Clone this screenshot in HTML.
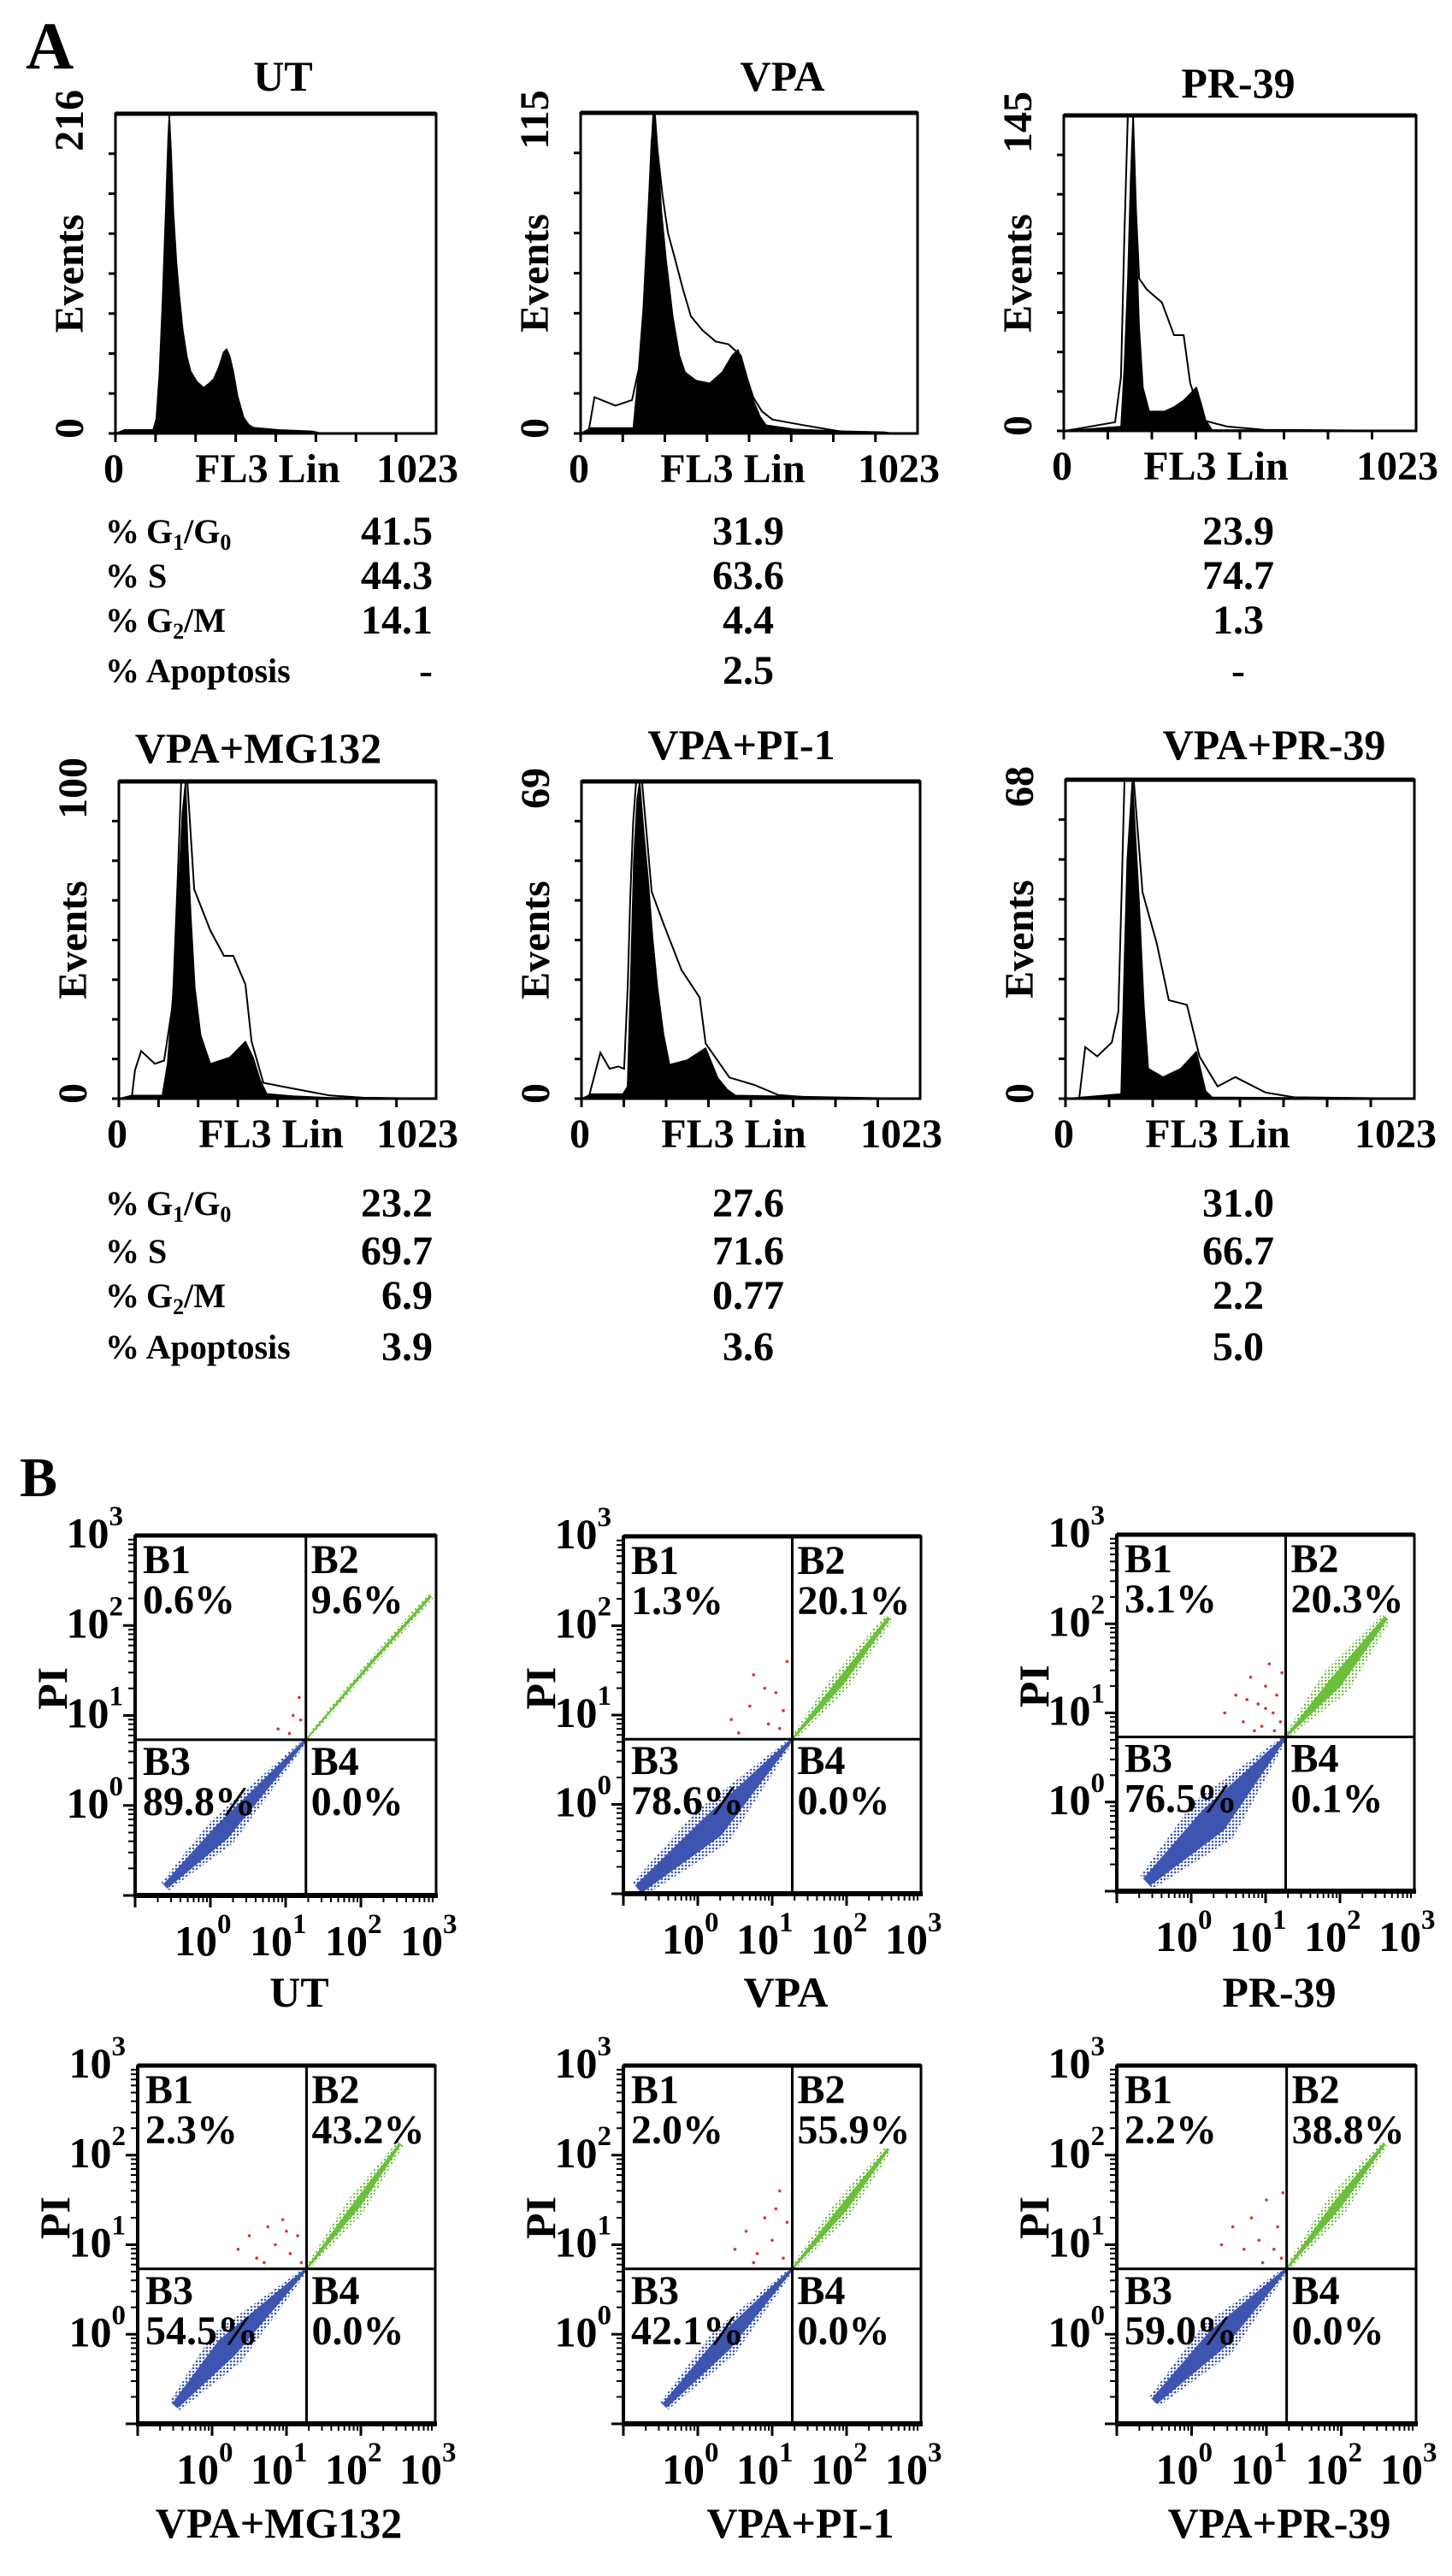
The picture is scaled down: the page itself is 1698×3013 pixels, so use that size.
<!DOCTYPE html>
<html><head><meta charset="utf-8"><style>
html,body{margin:0;padding:0;background:#fff;}
svg{display:block;}
text{font-family:"Liberation Serif","Times New Roman",serif;font-weight:bold;fill:#000;}
</style></head><body>
<svg id="fig" width="1698" height="3013" viewBox="0 0 1698 3013" xmlns="http://www.w3.org/2000/svg">
<defs>
<pattern id="pb" width="4" height="4" patternUnits="userSpaceOnUse"><circle cx="2" cy="2" r="1.3" fill="#3d55b0"/></pattern>
<pattern id="pg" width="4" height="4" patternUnits="userSpaceOnUse"><circle cx="2" cy="2" r="1.2" fill="#6cbf3c"/></pattern>
</defs>
<rect width="1698" height="3013" fill="#fff"/>
<text x="30" y="80" font-size="78">A</text>
<text x="23" y="1750" font-size="66">B</text>
</svg>
<script>
// ---------- Histogram data (channel 0-1023, events) ----------
const histTitles = ['UT','VPA','PR-39','VPA+MG132','VPA+PI-1','VPA+PR-39'];
const histMax = [216,115,145,100,69,68];
const utFillCh  = [0,30,120,130,140,150,160,168,172,178,185,195,204,215,228,240,260,281,300,314,330,345,355,365,376,390,409,425,440,520,628,660,1023];
const utFillV   = [0,2.5,2.5,10,40,90,150,200,216,190,150,115,93,70,52,42,35,31,34,37,45,55,57,52,42,25,11,6,4,2.5,1.5,0,0];
const vpaFillCh = [0,31,160,174,190,205,215,226,235,245,260,280,300,317,350,392,430,460,478,500,524,545,563,650,800,922,950,1023];
const vpaFillV  = [0,2,2,20,45,80,105,115,100,80,62,42,28,22,19,18,22,28,30,22,12,6,3,1.5,0.8,0.5,0,0];
const vpaOpenCh = [0,23,42,106,156,180,192,205,214,221,235,249,265,288,310,335,370,410,449,486,505,524,550,582,675,800,1023];
const vpaOpenV  = [0,0,13,10,12,25,39,70,100,115,100,85,72,62,52,42,37,33,32,28,20,13,8,5,3,0.5,0];
const pr39FillCh= [0,166,176,186,194,201,210,219,230,248,293,320,348,385,400,412,430,1023];
const pr39FillV = [0,2,30,70,115,145,90,48,20,9,9,11,14,20,12,5,0.5,0];
const pr39OpenCh= [0,40,149,166,176,186,201,210,219,241,285,320,348,367,402,474,583,1023];
const pr39OpenV = [0,1,4,25,90,145,145,100,70,65,59,44,44,22,5,2,0.5,0];
const mgFillCh  = [0,41,140,157,179,192,205,215,222,232,245,264,295,358,408,433,455,477,560,680,1023];
const mgFillV   = [0,1,1,11,39,65,90,100,80,58,35,20,11,13,18,13,6,1.5,0.8,0.3,0];
const mgOpenCh  = [0,41,52,72,116,146,174,190,201,221,243,295,339,369,408,428,466,571,680,787,1023];
const mgOpenV   = [0,0,9,15,11,12,30,70,100,100,66,53,45,45,36,18,5,3,1,0.3,0];
const pi1FillCh = [0,31,125,139,150,158,168,176,188,201,215,230,248,266,320,375,411,440,465,1023];
const pi1FillV  = [0,1,1,2.6,30,52,65,69,58,48,35,24,14,7.4,8.4,11,4.6,2,0.7,0];
const pi1OpenCh = [0,21,57,85,111,129,140,147,156,165,183,212,248,302,357,375,447,522,594,700,1023];
const pi1OpenV  = [0,0,10,6.5,7,6.5,25,43,60,69,69,45,38,28,22,12,4.6,3,0.8,0.2,0];
const pr2FillCh = [0,163,173,181,196,206,216,230,243,286,338,384,411,430,1023];
const pr2FillV  = [0,1,30,51,68,55,42,20,6.4,4.6,6.4,10,1.6,0.3,0];
const pr2OpenCh = [0,40,58,93,136,155,165,173,200,226,268,303,356,393,446,498,587,670,1023];
const pr2OpenV  = [0,0,11,9,12,18.5,45,68,68,44,33,21,20,9,2.6,4.6,1.3,0.3,0];
const histFillCh = [utFillCh,vpaFillCh,pr39FillCh,mgFillCh,pi1FillCh,pr2FillCh];
const histFillV  = [utFillV,vpaFillV,pr39FillV,mgFillV,pi1FillV,pr2FillV];
const histOpenCh = [null,vpaOpenCh,pr39OpenCh,mgOpenCh,pi1OpenCh,pr2OpenCh];
const histOpenV  = [null,vpaOpenV,pr39OpenV,mgOpenV,pi1OpenV,pr2OpenV];

// ---------- Cell-cycle stats ----------
const statLabels = ['G1/G0','S','G2/M','Apoptosis'];
const statG1 = ['41.5','31.9','23.9','23.2','27.6','31.0'];
const statS  = ['44.3','63.6','74.7','69.7','71.6','66.7'];
const statG2 = ['14.1','4.4','1.3','6.9','0.77','2.2'];
const statAp = ['-','2.5','-','3.9','3.6','5.0'];

// ---------- Annexin/PI scatter data (log10 units) ----------
const scTitles = ['UT','VPA','PR-39','VPA+MG132','VPA+PI-1','VPA+PR-39'];
const scB1 = ['0.6%','1.3%','3.1%','2.3%','2.0%','2.2%'];
const scB2 = ['9.6%','20.1%','20.3%','43.2%','55.9%','38.8%'];
const scB3 = ['89.8%','78.6%','76.5%','54.5%','42.1%','59.0%'];
const scB4 = ['0.0%','0.0%','0.1%','0.0%','0.0%','0.0%'];
const gateX = 1.27, gateY = 0.73;
const blueLines = [
 [[-0.6,-0.9],[0.15,-0.3],[1.27,0.73]],
 [[-0.8,-0.95],[0.2,-0.25],[1.27,0.73]],
 [[-0.6,-0.9],[0.3,-0.2],[1.27,0.73]],
 [[-0.5,-0.8],[0.2,-0.15],[1.27,0.73]],
 [[-0.45,-0.8],[0.35,-0.1],[1.27,0.73]],
 [[-0.5,-0.75],[0.35,-0.05],[1.27,0.73]]];
const blueWidths = [[0.12,0.35,0.05],[0.2,0.5,0.05],[0.2,0.6,0.05],[0.15,0.45,0.05],[0.12,0.35,0.05],[0.15,0.45,0.05]];
const greenLines = [
 [[1.27,0.73],[2.1,1.55],[2.93,2.33]],
 [[1.27,0.73],[1.9,1.35],[2.57,2.09]],
 [[1.27,0.73],[1.95,1.35],[2.62,2.07]],
 [[1.27,0.73],[1.95,1.45],[2.53,2.13]],
 [[1.27,0.73],[1.95,1.4],[2.56,2.07]],
 [[1.27,0.73],[1.95,1.45],[2.58,2.13]]];
const greenWidths = [[0.04,0.08,0.08],[0.05,0.22,0.1],[0.05,0.35,0.12],[0.05,0.22,0.08],[0.05,0.22,0.08],[0.05,0.25,0.08]];
const redPts = [
 [[0.9,0.85],[1.1,1.0],[1.2,0.95],[1.18,1.2],[1.05,0.8]],
 [[0.45,0.95],[0.7,1.1],[0.75,1.45],[0.95,0.9],[1.05,1.25],[1.15,1.05],[1.2,1.6],[0.55,0.8],[0.9,1.3],[1.1,0.85]],
 [[0.45,1.0],[0.6,1.2],[0.7,0.9],[0.8,1.4],[0.9,1.1],[0.95,0.85],[1.0,1.3],[1.05,1.55],[1.1,1.0],[1.15,1.2],[1.2,0.9],[1.22,1.45],[0.85,0.8],[1.0,1.05],[1.12,0.8],[0.75,1.15]],
 [[0.35,0.95],[0.5,1.1],[0.6,0.85],[0.75,1.2],[0.85,1.0],[0.95,1.28],[1.05,0.9],[1.15,1.1],[1.2,0.8],[0.7,0.8],[1.0,1.15]],
 [[0.5,0.95],[0.65,1.15],[0.8,0.9],[0.9,1.3],[1.0,1.05],[1.1,1.6],[1.15,0.85],[1.2,1.25],[1.05,1.4],[0.75,0.8]],
 [[0.4,1.0],[0.55,1.2],[0.7,0.95],[0.8,1.3],[0.9,1.05],[1.0,1.5],[1.1,0.95],[1.15,1.2],[1.22,1.58],[0.95,0.8],[1.2,0.85]]];

// ---------- layout (pixel geometry, not data) ----------
const histBox = [[135,510,133,507],[679,1073,132,507],[1244,1656,135,504],[139,510,914,1285],[680,1076,914,1285],[1246,1654,912,1285]];
const histTitlePos = [[331,106],[915,106],[1448,114],[302,892],[867,888],[1490,888]];
const statRowY = [[637,689,741,800],[1423,1479,1531,1591]];
const statValX = [[506,'end'],[875,'middle'],[1448,'middle']];
const scBox = [[158,510,1796,2217],[729,1077,1797,2215],[1306,1654,1795,2212],[161,509,2416,2835],[729,1077,2416,2835],[1306,1656,2416,2835]];
const scTitleY = [2347,2347,2347,2968,2968,2968];
const scTitleX = [350,919,1496,326,936,1496];

const svg = document.getElementById('fig');
const NS = 'http://www.w3.org/2000/svg';
function mk(tag, attrs, parent){
  const e = document.createElementNS(NS, tag);
  for (const k in attrs) e.setAttribute(k, attrs[k]);
  (parent||svg).appendChild(e);
  return e;
}
function txt(str, x, y, size, anchor, parent){
  const t = mk('text', {x:x, y:y, 'font-size':size, 'text-anchor':anchor||'start'}, parent);
  t.textContent = str;
  return t;
}

// ---------- Histograms ----------
for (let p = 0; p < 6; p++){
  const [x0,x1,y0,y1] = histBox[p];
  const g = mk('g', {});
  
  
  const xs = c => x0 + c/1023*(x1-x0);
  const ys = v => y1 - Math.min(v, histMax[p])/histMax[p]*(y1-y0);
  const fc = histFillCh[p], fv = histFillV[p];
  let d = 'M' + xs(fc[0]) + ',' + y1;
  for (let i = 0; i < fc.length; i++) d += ' L' + xs(fc[i]).toFixed(1) + ',' + ys(fv[i]).toFixed(1);
  d += ' L' + xs(fc[fc.length-1]) + ',' + y1 + ' Z';
  const fill = mk('path', {d:d, fill:'#000', stroke:'#000', 'stroke-width':1.5, 'stroke-linejoin':'round'}, g);
  
  
  if (histOpenCh[p]){
    const oc = histOpenCh[p], ov = histOpenV[p];
    let pts = '';
    for (let i = 0; i < oc.length; i++) pts += xs(oc[i]).toFixed(1) + ',' + ys(ov[i]).toFixed(1) + ' ';
    const ol = mk('polyline', {points:pts, fill:'none', stroke:'#000', 'stroke-width':2}, g);
    
    
  }
  const box = mk('rect', {x:x0, y:y0, width:x1-x0, height:y1-y0, fill:'none', stroke:'#000', 'stroke-width':3}, g);
  
  
  mk('line', {x1:x0, y1:y0, x2:x1, y2:y0, stroke:'#000', 'stroke-width':5}, g);
  for (let i = 0; i < 8; i++){
    const ty = y1 - i*(y1-y0)/8;
    const t = mk('line', {x1:x0-8, y1:ty, x2:x0, y2:ty, stroke:'#000', 'stroke-width':3}, g);
    
    
    const tx = x0 + i*(x1-x0)/8;
    const t2 = mk('line', {x1:tx, y1:y1, x2:tx, y2:y1+10, stroke:'#000', 'stroke-width':3}, g);
    
    
  }
  const [tx, ty] = histTitlePos[p];
  const tt = txt(histTitles[p], tx, ty, 50, 'middle', g);
  
  
  const ev = txt('Events', 0, 0, 48, 'middle', g);
  ev.setAttribute('transform', 'translate(' + (x0-38) + ',' + ((y0+y1)/2) + ') rotate(-90)');
  
  
  const mx = txt(String(histMax[p]), 0, 0, 48, 'middle', g);
  mx.setAttribute('transform', 'translate(' + (x0-38) + ',' + (y0+8) + ') rotate(-90)');
  
  
  const z = txt('0', 0, 0, 48, 'middle', g);
  z.setAttribute('transform', 'translate(' + (x0-38) + ',' + (y1-6) + ') rotate(-90)');
  
  
  const xl0 = txt('0', x0-2, y1+57, 48, 'middle', g);
  
  
  const xt = txt('FL3 Lin', x0+178, y1+57, 48, 'middle', g);
  
  
  const xl1 = txt('1023', x1+26, y1+57, 48, 'end', g);
  
  
}

// ---------- Stats tables ----------
const statVals = [statG1, statS, statG2, statAp];
for (let r = 0; r < 2; r++){
  const rows = statRowY[r];
  for (let k = 0; k < 4; k++){
    const y = rows[k];
    const lab = mk('text', {x:123, y:y-2, 'font-size':40});
    
    
    if (k === 0){
      lab.innerHTML = '%\u2009G<tspan font-size="26" dy="8">1</tspan><tspan dy="-8">/G</tspan><tspan font-size="26" dy="8">0</tspan>';
    } else if (k === 2){
      lab.innerHTML = '%\u2009G<tspan font-size="26" dy="8">2</tspan><tspan dy="-8">/M</tspan>';
    } else {
      lab.textContent = '% ' + statLabels[k];
    }
    for (let c = 0; c < 3; c++){
      const idx = r*3 + c;
      const [vx, anc] = statValX[c];
      const v = txt(statVals[k][idx], vx, y, 48, anc);
      
      
    }
  }
}

// ---------- Scatter plots ----------
function bandPath(line, widths, xs, ys, scale){
  const P = line.map(q => [xs(q[0]), ys(q[1])]);
  const L = [], R = [];
  for (let i = 0; i < P.length; i++){
    const a = P[Math.max(0,i-1)], b = P[Math.min(P.length-1,i+1)];
    let dx = b[0]-a[0], dy = b[1]-a[1]; const n = Math.hypot(dx,dy)||1;
    const nx = -dy/n, ny = dx/n, w = widths[i]*scale/2;
    L.push([P[i][0]+nx*w, P[i][1]+ny*w]); R.push([P[i][0]-nx*w, P[i][1]-ny*w]);
  }
  const all = L.concat(R.reverse());
  return 'M' + all.map(p => p[0].toFixed(1)+','+p[1].toFixed(1)).join(' L') + ' Z';
}
for (let p = 0; p < 6; p++){
  const [x0,x1,y0,y1] = scBox[p];
  const g = mk('g', {});
  
  
  const xs = v => x0 + (v+1)/4*(x1-x0);
  const ys = v => y1 - (v+1)/4*(y1-y0);
  const sc = (y1-y0)/4;
  const bo = mk('path', {d:bandPath(blueLines[p], blueWidths[p], xs, ys, sc), fill:'url(#pb)'}, g);
  
  
  const bi = mk('path', {d:bandPath(blueLines[p], blueWidths[p].map(w=>w*0.55), xs, ys, sc), fill:'#3d55b0'}, g);
  
  
  const go = mk('path', {d:bandPath(greenLines[p], greenWidths[p], xs, ys, sc), fill:'url(#pg)'}, g);
  
  
  const gi = mk('path', {d:bandPath(greenLines[p], greenWidths[p].map(w=>w*0.4), xs, ys, sc), fill:'#6cbf3c'}, g);
  
  
  for (const q of redPts[p]){
    const c = mk('circle', {cx:xs(q[0]), cy:ys(q[1]), r:1.8, fill:'#e03030'}, g);
    
    
  }
  const qx = xs(gateX), qy = ys(gateY);
  const vl = mk('line', {x1:qx, y1:y0, x2:qx, y2:y1, stroke:'#000', 'stroke-width':3}, g);
  
  
  const hl = mk('line', {x1:x0, y1:qy, x2:x1, y2:qy, stroke:'#000', 'stroke-width':3}, g);
  
  
  const fr = mk('rect', {x:x0, y:y0, width:x1-x0, height:y1-y0, fill:'none', stroke:'#000', 'stroke-width':3}, g);
  
  
  mk('line', {x1:x0, y1:y0, x2:x1, y2:y0, stroke:'#000', 'stroke-width':5}, g);
  mk('line', {x1:x0-2, y1:y1, x2:x1+2, y2:y1, stroke:'#000', 'stroke-width':6}, g);
  mk('line', {x1:x0, y1:y0, x2:x0, y2:y1, stroke:'#000', 'stroke-width':4}, g);
  for (let dec = -1; dec < 3; dec++){
    for (let m = 1; m < 10; m++){
      const lv = dec + Math.log10(m);
      const major = m === 1;
      const len = major ? 14 : 8;
      const ty = ys(lv);
      const t = mk('line', {x1:x0-len, y1:ty, x2:x0, y2:ty, stroke:'#000', 'stroke-width':major?3:2}, g);
      
      
      const tx = xs(lv);
      const t2 = mk('line', {x1:tx, y1:y1, x2:tx, y2:y1+len, stroke:'#000', 'stroke-width':major?3:2}, g);
      
      
    }
  }
  for (let e = 0; e <= 3; e++){
    const ty = ys(e);
    const yl = mk('text', {x:x0-14, y:ty+14, 'font-size':50, 'text-anchor':'end'}, g);
    yl.innerHTML = '10<tspan font-size="33" dy="-26">' + e + '</tspan>';
    
    
    const tx = xs(e);
    const xl = mk('text', {x:tx-42, y:y1+70, 'font-size':50}, g);
    xl.innerHTML = '10<tspan font-size="33" dy="-26">' + e + '</tspan>';
    
    
  }
  const pi = txt('PI', 0, 0, 50, 'middle', g);
  pi.setAttribute('transform', 'translate(' + (x0-80) + ',' + (ys(1.3)) + ') rotate(-90)');
  
  
  const ql = [['B1',scB1[p],x0+9,y0+44],['B2',scB2[p],qx+6,y0+44],['B3',scB3[p],x0+9,qy+41],['B4',scB4[p],qx+6,qy+41]];
  for (const [nm, val, lx, ly] of ql){
    const a = txt(nm, lx, ly, 48, 'start', g);
    
    
    const b = txt(val, lx, ly+47, 48, 'start', g);
    
    
  }
  const st = txt(scTitles[p], scTitleX[p], scTitleY[p], 50, 'middle', g);
  
  
}
</script>
</body></html>
